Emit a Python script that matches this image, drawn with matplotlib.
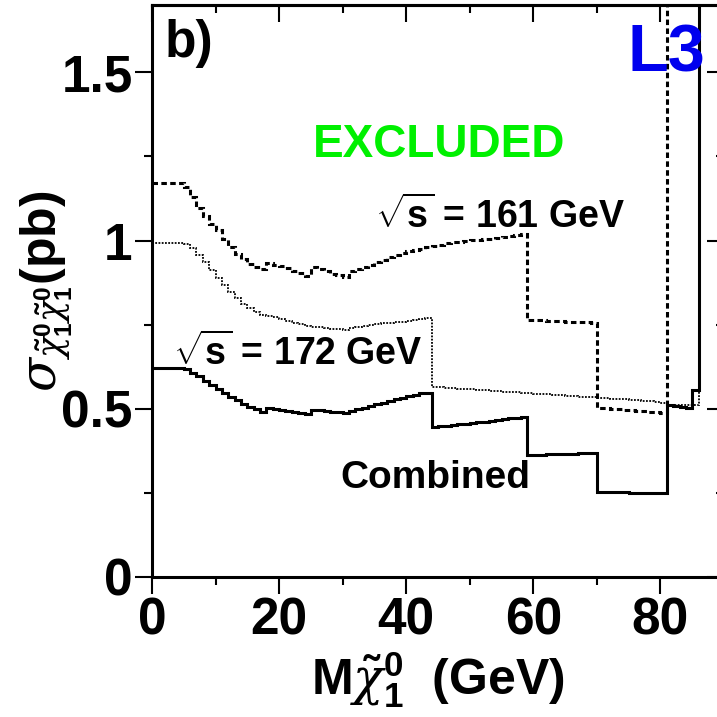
import numpy as np
import matplotlib
matplotlib.use('agg')
import matplotlib.pyplot as plt
from matplotlib.ticker import MultipleLocator

plt.rcParams['font.family'] = 'Liberation Sans'
plt.rcParams['font.weight'] = 'bold'
plt.rcParams['axes.labelweight'] = 'bold'
# greek letters thin, digits and latin bold
plt.rcParams['mathtext.fontset'] = 'custom'
plt.rcParams['mathtext.rm'] = 'Liberation Sans:bold'
plt.rcParams['mathtext.bf'] = 'Liberation Sans:bold'
plt.rcParams['mathtext.it'] = 'DejaVu Serif:italic:normal'
plt.rcParams['mathtext.default'] = 'it'

# cross-section limits (pb) in 1 GeV bins of neutralino mass, last bin runs off scale
mass_edges = list(range(0, 87)) + [90]

combined = [0.622, 0.622, 0.622, 0.622, 0.622,
            0.617, 0.607, 0.596, 0.584, 0.571, 0.559, 0.547, 0.536, 0.525,
            0.515, 0.506, 0.498, 0.491,
            0.503, 0.499, 0.496, 0.493, 0.490, 0.487, 0.484,
            0.497, 0.495, 0.493, 0.491, 0.489, 0.487,
            0.493, 0.498, 0.503, 0.508, 0.513, 0.518, 0.523, 0.528, 0.533,
            0.538, 0.542, 0.546, 0.548,
            0.446, 0.448, 0.450, 0.452, 0.454, 0.456, 0.458, 0.460, 0.462,
            0.464, 0.467, 0.470, 0.472, 0.474, 0.476,
            0.363, 0.364, 0.364, 0.365, 0.365, 0.366, 0.366, 0.367, 0.368,
            0.368, 0.369,
            0.253, 0.253, 0.252, 0.252, 0.252, 0.251, 0.251, 0.251, 0.250,
            0.250, 0.250,
            0.512, 0.509, 0.506, 0.503,
            0.557,
            5.0]

limit_161 = [1.170, 1.170, 1.170, 1.170, 1.170,
             1.160, 1.128, 1.098, 1.072, 1.048, 1.030, 1.005, 0.982, 0.960,
             0.945, 0.930, 0.920, 0.914,
             0.934, 0.928, 0.923, 0.918, 0.910, 0.903, 0.896,
             0.920, 0.914, 0.908, 0.902, 0.897, 0.893,
             0.910, 0.916, 0.922, 0.928, 0.935, 0.942, 0.950, 0.957, 0.964,
             0.968, 0.972, 0.976, 0.980, 0.984, 0.988, 0.992, 0.995, 0.997,
             0.999, 1.001, 1.002, 1.004, 1.006, 1.008, 1.010, 1.013, 1.016,
             1.018,
             0.765, 0.764, 0.763, 0.762, 0.761, 0.760, 0.759, 0.758, 0.757,
             0.757, 0.756,
             0.503, 0.502, 0.500, 0.499, 0.497, 0.496, 0.494, 0.493, 0.491,
             0.490, 0.488,
             5.0, 5.0, 5.0, 5.0, 5.0, 5.0]

limit_172 = [0.994, 0.994, 0.994, 0.994, 0.994,
             0.990, 0.979, 0.958, 0.935, 0.912, 0.890, 0.868, 0.848, 0.828,
             0.812, 0.800, 0.788, 0.780, 0.775, 0.772, 0.766, 0.760, 0.755,
             0.751, 0.747, 0.744, 0.742, 0.740, 0.738, 0.736, 0.735,
             0.740, 0.744, 0.747, 0.750, 0.752, 0.754, 0.756, 0.757, 0.758,
             0.760, 0.764, 0.768, 0.771,
             0.565, 0.564, 0.563, 0.561, 0.560, 0.559, 0.558, 0.556, 0.555,
             0.554, 0.553, 0.551, 0.550, 0.549, 0.548, 0.546, 0.545, 0.544,
             0.543, 0.541, 0.540, 0.539, 0.538, 0.536, 0.535, 0.534, 0.533,
             0.531, 0.530, 0.529, 0.528, 0.526, 0.525, 0.524, 0.523, 0.521,
             0.518,
             0.512, 0.512, 0.512, 0.512, 0.512,
             5.0]

x_ticks = [0, 20, 40, 60, 80]
y_ticks = [0, 0.5, 1, 1.5]
y_tick_labels = ['0', '0.5', '1', '1.5']

fig = plt.figure(figsize=(7.17, 7.17), dpi=100)
ax = fig.add_axes([152 / 717, 140 / 717, 572 / 717, 572 / 717])

ax.stairs(combined, mass_edges, baseline=None, color='black', lw=2.2)
ax.stairs(limit_161, mass_edges, baseline=None, color='black', lw=2.2,
          linestyle=(0, (1.8, 1.1)))
ax.stairs(limit_172, mass_edges, baseline=None, color='black', lw=1.3,
          linestyle=(0, (1.0, 0.8)))

ax.set_xlim(0, 90)
ax.set_ylim(0, 1.7)
ax.set_xticks(x_ticks)
ax.set_xticklabels([str(t) for t in x_ticks])
ax.set_yticks(y_ticks)
ax.set_yticklabels(y_tick_labels)
ax.xaxis.set_minor_locator(MultipleLocator(10))
ax.yaxis.set_minor_locator(MultipleLocator(0.25))
ax.tick_params(which='both', direction='out', width=1.5, labelsize=37, pad=2,
               top=False, right=False)
ax.tick_params(which='major', length=12)
ax.tick_params(which='minor', length=6)
for s in ax.spines.values():
    s.set_linewidth(2.2)

# inward ticks along the top and right edges
top = ax.secondary_xaxis('top')
top.set_xticks(x_ticks)
top.xaxis.set_minor_locator(MultipleLocator(10))
right = ax.secondary_yaxis('right')
right.set_yticks(y_ticks)
right.yaxis.set_minor_locator(MultipleLocator(0.25))
for sec in (top, right):
    sec.tick_params(which='both', direction='in', width=1.5, labelbottom=False,
                    labeltop=False, labelleft=False, labelright=False)
    sec.tick_params(which='major', length=12)
    sec.tick_params(which='minor', length=6)
    for s in sec.spines.values():
        s.set_linewidth(2.2)

ax.set_xlabel(r'M$\tilde{\chi}^{\mathrm{0}}_{\mathrm{1}}$  (GeV)', fontsize=36,
              fontweight='bold', labelpad=3)
ax.text(-0.185, 0.5,
        r'$\sigma_{\tilde{\chi}^{\mathrm{0}}_{\mathrm{1}}\tilde{\chi}^{\mathrm{0}}_{\mathrm{1}}}$(pb)',
        transform=ax.transAxes, rotation=90, ha='center', va='center',
        fontsize=36)

ax.text(2.0, 1.545, 'b)', fontsize=37)
ax.text(74.8, 1.503, 'L3', fontsize=48, color='#0000ee')
ax.text(25.3, 1.247, 'EXCLUDED', fontsize=33, color='#00f000')
ax.text(35.1, 1.039, r'$\sqrt{\mathrm{s}}$ = 161 GeV', fontsize=27)
ax.text(3.3, 0.631, r'$\sqrt{\mathrm{s}}$ = 172 GeV', fontsize=27)
ax.text(29.6, 0.265, 'Combined', fontsize=28)

fig.savefig('out.png', dpi=100)
